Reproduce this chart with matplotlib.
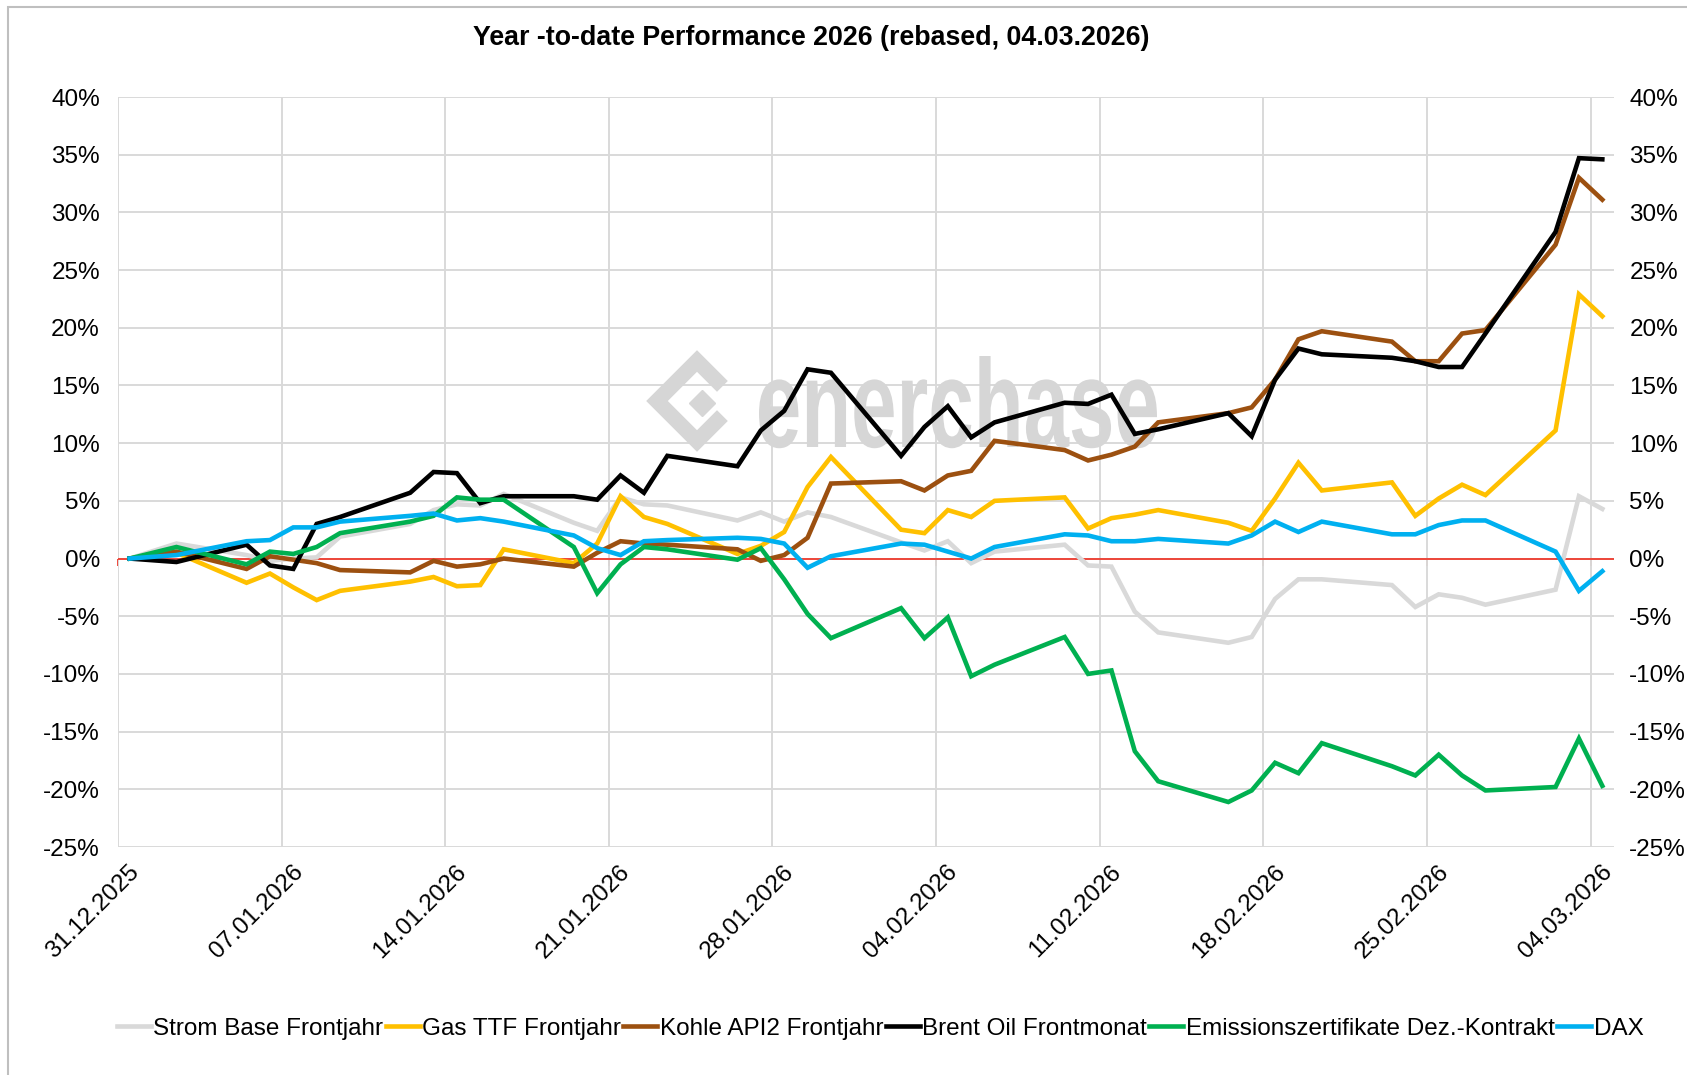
import pandas as pd
import matplotlib.pyplot as plt
from matplotlib.transforms import ScaledTranslation, Affine2D, IdentityTransform
from matplotlib.textpath import TextPath
from matplotlib.patches import PathPatch, Rectangle
from matplotlib.font_manager import FontProperties
from matplotlib.lines import Line2D

plt.rcParams['font.family'] = ['Liberation Sans', 'DejaVu Sans']

# Handelstage (Schlusskurse), Veränderung seit 31.12.2025 in %
dates = ["31.12.2025", "02.01.2026", "05.01.2026", "06.01.2026", "07.01.2026", "08.01.2026",
         "09.01.2026", "12.01.2026", "13.01.2026", "14.01.2026", "15.01.2026", "16.01.2026",
         "19.01.2026", "20.01.2026", "21.01.2026", "22.01.2026", "23.01.2026", "26.01.2026",
         "27.01.2026", "28.01.2026", "29.01.2026", "30.01.2026", "02.02.2026", "03.02.2026",
         "04.02.2026", "05.02.2026", "06.02.2026", "09.02.2026", "10.02.2026", "11.02.2026",
         "12.02.2026", "13.02.2026", "16.02.2026", "17.02.2026", "18.02.2026", "19.02.2026",
         "20.02.2026", "23.02.2026", "24.02.2026", "25.02.2026", "26.02.2026", "27.02.2026",
         "02.03.2026", "03.03.2026", "04.03.2026"]

strom = [0, 1.3, 0.3, -0.2, 0.0, 0.1, 1.9, 3.0, 4.2, 4.7, 4.6, 5.6, 3.1, 2.4, 5.3, 4.7, 4.6,
         3.3, 4.0, 3.2, 4.0, 3.6, 1.4, 0.7, 1.5, -0.4, 0.6, 1.2, -0.6, -0.7, -4.6, -6.4, -7.3,
         -6.8, -3.5, -1.8, -1.8, -2.3, -4.2, -3.1, -3.4, -4.0, -2.7, 5.4, 4.3]
gas = [0, 0.5, -2.1, -1.3, -2.5, -3.6, -2.8, -2.0, -1.6, -2.4, -2.3, 0.8, -0.4, 1.3, 5.4, 3.6,
       3.0, 0.4, 1.1, 2.3, 6.2, 8.8, 2.5, 2.2, 4.2, 3.6, 5.0, 5.3, 2.6, 3.5, 3.8, 4.2, 3.1, 2.4,
       5.2, 8.3, 5.9, 6.6, 3.7, 5.2, 6.4, 5.5, 11.1, 22.9, 21.0]
kohle = [0, 0.6, -0.9, 0.2, -0.1, -0.4, -1.0, -1.2, -0.2, -0.7, -0.5, 0.0, -0.7, 0.5, 1.5, 1.3,
         1.2, 0.8, -0.2, 0.3, 1.8, 6.5, 6.7, 5.9, 7.2, 7.6, 10.2, 9.4, 8.5, 9.0, 9.7, 11.8, 12.6,
         13.1, 15.5, 19.0, 19.7, 18.8, 17.1, 17.1, 19.5, 19.8, 27.2, 33.0, 31.1]
brent = [0, -0.3, 1.2, -0.6, -0.9, 3.0, 3.6, 5.7, 7.5, 7.4, 4.8, 5.4, 5.4, 5.1, 7.2, 5.7, 8.9,
         8.0, 11.1, 12.8, 16.4, 16.1, 8.9, 11.4, 13.2, 10.5, 11.8, 13.5, 13.4, 14.2, 10.8, 11.2,
         12.6, 10.6, 15.5, 18.2, 17.7, 17.4, 17.1, 16.6, 16.6, 19.5, 28.3, 34.7, 34.6]
emission = [0, 1.0, -0.5, 0.6, 0.4, 1.0, 2.2, 3.2, 3.7, 5.3, 5.1, 5.1, 1.0, -3.0, -0.5, 1.0,
            0.8, -0.1, 0.9, -1.8, -4.8, -6.9, -4.3, -6.9, -5.1, -10.2, -9.2, -6.8, -10.0, -9.7,
            -16.7, -19.3, -21.1, -20.1, -17.7, -18.6, -16.0, -18.0, -18.8, -17.0, -18.8, -20.1,
            -19.8, -15.6, -19.7]
dax = [0, 0.3, 1.5, 1.6, 2.7, 2.7, 3.2, 3.7, 3.9, 3.3, 3.5, 3.2, 2.0, 0.9, 0.3, 1.5, 1.6, 1.8,
       1.7, 1.3, -0.8, 0.2, 1.3, 1.2, 0.6, 0.0, 1.0, 2.1, 2.0, 1.5, 1.5, 1.7, 1.3, 2.0, 3.2, 2.3,
       3.2, 2.1, 2.1, 2.9, 3.3, 3.3, 0.6, -2.8, -1.1]

series = [
    ("Strom Base Frontjahr", strom, "#D9D9D9"),
    ("Gas TTF Frontjahr", gas, "#FFC000"),
    ("Kohle API2 Frontjahr", kohle, "#9C5010"),
    ("Brent Oil Frontmonat", brent, "#000000"),
    ("Emissionszertifikate Dez.-Kontrakt", emission, "#00B050"),
    ("DAX", dax, "#00B0F0"),
]

title = "Year -to-date Performance 2026 (rebased, 04.03.2026)"
y_ticks = list(range(-25, 45, 5))
y_labels = [f"{v}%" for v in y_ticks]

# Datumsachse: ein Slot pro Kalendertag, Punkt in der Slotmitte
d = pd.to_datetime(dates, format="%d.%m.%Y")
start = d[0]
x = (d - start).days + 0.5
tick_dates = pd.date_range(start, d[-1], freq="7D")
x_ticks = (tick_dates - start).days
x_labels = tick_dates.strftime("%d.%m.%Y")

W, H = 1687, 1075
fig = plt.figure(figsize=(W / 100, H / 100), dpi=100)
ax = fig.add_axes([118 / W, 1 - 847 / H, (1614 - 118) / W, (847 - 97) / H])

for name, vals, col in series:
    ax.plot(x, vals, color=col, lw=3.3, label=name, zorder=3, solid_joinstyle="miter")

ax.axhline(0, color="#EE3B2E", lw=1.3, zorder=2)
ax.set_xlim(0, 64)
ax.set_ylim(-25, 40)
ax.set_xticks(x_ticks, x_labels)
ax.set_yticks(y_ticks, y_labels)
ax.grid(color="#D9D9D9", lw=1.4, zorder=0)
ax.set_axisbelow(True)
for s in ax.spines.values():
    s.set_visible(False)
ax.tick_params(axis="both", length=0, labelsize=17.5, colors="#000000")
ax.tick_params(axis="y", pad=13)
ax.tick_params(axis="x", pad=10)
for lab in ax.get_xticklabels():
    lab.set_rotation(45)
    lab.set_ha("right")
    lab.set_va("top")
    lab.set_transform(lab.get_transform() + ScaledTranslation(0.26, 0, fig.dpi_scale_trans))

# rote Nulllinie mit Teilstrichen
sec = ax.secondary_xaxis(25 / 65)
sec.set_xticks(x_ticks)
sec.tick_params(axis="x", direction="out", length=5, width=1.3, color="#EE3B2E",
                labelbottom=False, labeltop=False)
for s in sec.spines.values():
    s.set_visible(False)

ax2 = ax.twinx()
ax2.set_ylim(-25, 40)
ax2.set_yticks(y_ticks, y_labels)
ax2.tick_params(axis="y", length=0, labelsize=17.5, pad=11)
for s in ax2.spines.values():
    s.set_visible(False)

# Wasserzeichen
wm = "#D6D6D6"
tp = TextPath((0, 0), "enerchase", size=100, prop=FontProperties(family="Liberation Sans", weight="bold"))
bb = tp.get_extents()
tr = Affine2D().translate(-bb.x0, 0).scale(398 / bb.width, 91 / bb.y1).translate(759, H - 447)
ax.add_artist(PathPatch(tp, transform=tr, facecolor=wm, edgecolor="none", zorder=1, clip_on=False))
cx, cy, r = 697, H - 401, 40
ax.add_artist(Line2D([cx + 0.5 * r, cx, cx - r, cx, cx + 0.5 * r],
                     [cy + 0.5 * r, cy + r, cy, cy - r, cy - 0.5 * r],
                     transform=IdentityTransform(), color=wm, lw=11, solid_joinstyle="miter", zorder=1))
ax.add_artist(Line2D([cx + 0.12 * r], [cy - 0.05 * r], transform=IdentityTransform(),
                     marker="D", ms=13, color=wm, lw=0, zorder=1))

fig.text(0.481, 0.965, title, ha="center", va="center", fontsize=19.3, fontweight="bold")

fig.legend(loc="center", bbox_to_anchor=(0.5216, 0.043), ncol=6, frameon=False, fontsize=17.5,
           handlelength=1.4, handletextpad=0.1, columnspacing=0.1)

fig.add_artist(Rectangle((8, -20), W + 40, H - 7 + 20, transform=IdentityTransform(),
                         facecolor="none", edgecolor="#BFBFBF", lw=1.5))

fig.savefig("out.png", dpi=100)
